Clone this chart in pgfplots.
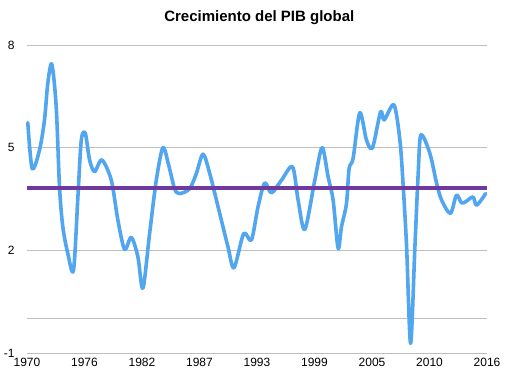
\documentclass[border=0pt]{standalone}
\usepackage{pgfplots}
\pgfplotsset{compat=1.18}
\usepackage{fontspec}
\setmainfont{Liberation Sans}
\definecolor{pibblue}{RGB}{82,166,240}
\definecolor{avgpurple}{RGB}{110,58,158}
\definecolor{gridgray}{RGB}{190,190,190}
\begin{document}
\begin{tikzpicture}
\path[use as bounding box] (-27pt,-28pt) rectangle (479pt,353pt);
\begin{axis}[
  at={(0pt,0pt)}, anchor=south west,
  scale only axis, width=460pt, height=308pt,
  xmin=1970, xmax=2016, ymin=-1, ymax=8,
  clip=false,
  axis line style={draw=none},
  tick style={draw=none},
  ytick={-1,2,5,8},
  extra y ticks={0}, extra y tick labels={},
  ymajorgrids, grid style={gridgray, line width=0.9pt},
  xtick={1970,1975.75,1981.5,1987.25,1993,1998.75,2004.5,2010.25,2016},
  xticklabels={1970,1976,1982,1987,1993,1999,2005,2010,2016},
  ticklabel style={font=\fontsize{12}{14}\selectfont},
  /pgf/number format/assume math mode=true,
  yticklabel style={anchor=east, xshift=-9pt},
  xticklabel style={anchor=north, yshift=-2pt},
  title={\textbf{Crecimiento del PIB global}},
  title style={font=\fontsize{15}{18}\selectfont, at={(0.505,1)}, anchor=south, yshift=11pt},
]
\addplot[pibblue, line width=3.6pt, smooth, line cap=round, line join=round] coordinates {
(1970.08,5.73) (1970.52,4.39) (1971.25,4.93) (1971.75,5.81) (1972.08,6.88)
(1972.48,7.44) (1972.92,6.20) (1973.25,3.86) (1973.58,2.69) (1974.08,1.91)
(1974.65,1.42) (1975.09,3.56) (1975.43,5.22) (1975.83,5.42) (1976.26,4.64)
(1976.76,4.30) (1977.49,4.64) (1978.43,4.05) (1979.09,2.88) (1979.76,2.03)
(1980.43,2.38) (1981.09,1.81) (1981.59,0.89) (1982.26,2.49) (1982.93,4.05)
(1983.59,5.00) (1984.16,4.50) (1984.76,3.80) (1985.26,3.66) (1986.26,3.80)
(1986.94,4.25) (1987.60,4.81) (1988.27,4.25) (1989.27,3.08) (1990.10,2.10)
(1990.70,1.49) (1991.67,2.49) (1992.44,2.30) (1993.10,3.27) (1993.77,3.97)
(1994.44,3.68) (1995.45,4.05) (1996.55,4.44) (1997.11,3.47) (1997.78,2.61)
(1998.78,4.05) (1999.51,5.00) (2000.11,4.15) (2000.61,3.47) (2001.11,2.06)
(2001.45,2.69) (2001.95,3.37) (2002.21,4.39) (2002.61,4.69) (2003.28,6.02)
(2003.95,5.22) (2004.55,5.00) (2005.36,6.05) (2005.72,5.81) (2006.69,6.25)
(2007.29,5.22) (2007.62,3.88) (2007.96,2.10) (2008.36,-0.72) (2008.79,2.10)
(2009.12,4.25) (2009.39,5.37) (2010.29,4.83) (2010.96,3.96) (2011.46,3.47)
(2012.34,3.08) (2012.94,3.61) (2013.44,3.39) (2013.87,3.42) (2014.60,3.56)
(2014.96,3.32) (2015.87,3.66)
};
\addplot[avgpurple, line width=3.2pt] coordinates {(1970,3.82) (2016,3.82)};
\end{axis}
\end{tikzpicture}
\end{document}
